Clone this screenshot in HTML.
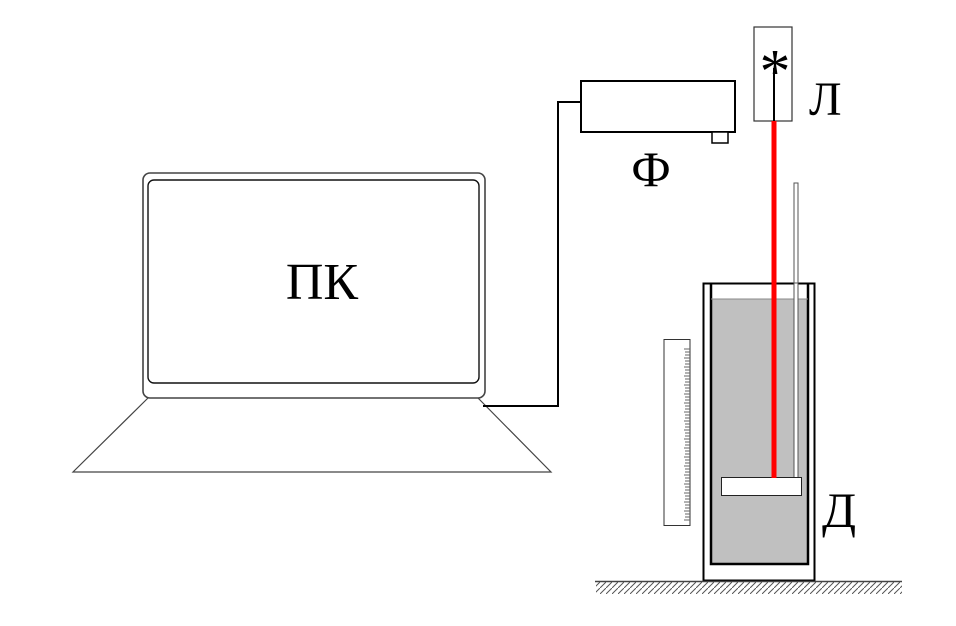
<!DOCTYPE html>
<html><head><meta charset="utf-8"><style>
html,body{margin:0;padding:0;background:#fff;}
svg{display:block;}
text{font-family:"Liberation Serif",serif;fill:#000;}
</style></head><body>
<svg width="956" height="626" viewBox="0 0 956 626" xmlns="http://www.w3.org/2000/svg">
<defs>
<pattern id="h" width="6" height="6" patternUnits="userSpaceOnUse">
<path d="M0 6 L6 0" stroke="#555" stroke-width="1"/>
</pattern>
</defs>
<!-- laptop -->
<rect x="143" y="173" width="342" height="225" rx="7" fill="none" stroke="#444" stroke-width="1.6"/>
<rect x="148" y="180" width="331" height="203" rx="6" fill="none" stroke="#111" stroke-width="1.4"/>
<path d="M148 398 L73 472 L551 472 L478 398" fill="none" stroke="#444" stroke-width="1.2"/>
<text x="322" y="299" font-size="52" text-anchor="middle">ПК</text>
<!-- cable -->
<path d="M483 406 L558 406 L558 102 L580 102" fill="none" stroke="#000" stroke-width="2"/>
<!-- projector -->
<rect x="581" y="81" width="154" height="51" fill="#fff" stroke="#000" stroke-width="2"/>
<rect x="712" y="132" width="16" height="11" fill="#fff" stroke="#000" stroke-width="1.5"/>
<text x="651" y="186" font-size="50" text-anchor="middle">Ф</text>
<!-- laser -->
<rect x="754" y="27" width="38" height="94" fill="#fff" stroke="#333" stroke-width="1.2"/>
<text x="775" y="92" font-size="62" text-anchor="middle">*</text>
<line x1="774" y1="68" x2="774" y2="121" stroke="#000" stroke-width="2"/>
<text x="809" y="115" font-size="48">Л</text>
<!-- rod -->
<rect x="794" y="183" width="4" height="295" fill="#fff" stroke="#555" stroke-width="1"/>
<!-- container -->
<rect x="703.5" y="283.5" width="111" height="297" fill="#fff" stroke="#000" stroke-width="2"/>
<rect x="711" y="299" width="97" height="265" fill="#c0c0c0"/>
<path d="M711 284 L711 564 L808 564 L808 284" fill="none" stroke="#000" stroke-width="2.5"/>
<line x1="711" y1="299" x2="808" y2="299" stroke="#888" stroke-width="1"/>
<rect x="794" y="283" width="4" height="195" fill="#fff" stroke="#555" stroke-width="1"/>
<rect x="721.5" y="477.5" width="80" height="18" fill="#fff" stroke="#222" stroke-width="1"/>
<line x1="774" y1="121" x2="774" y2="478" stroke="#f00" stroke-width="5"/>
<!-- ruler -->
<rect x="664" y="339.5" width="26" height="186" fill="#fff" stroke="#333" stroke-width="1"/>
<g stroke="#666" stroke-width="1">
<path d="M684 349h6M685 352h5M685 355h5M684 358h6M685 361h5M685 364h5M684 367h6M685 370h5M685 373h5M684 376h6M685 379h5M685 382h5M684 385h6M685 388h5M685 391h5M684 394h6M685 397h5M685 400h5M684 403h6M685 406h5M685 409h5M684 412h6M685 415h5M685 418h5M684 421h6M685 424h5M685 427h5M684 430h6M685 433h5M685 436h5M684 439h6M685 442h5M685 445h5M684 448h6M685 451h5M685 454h5M684 457h6M685 460h5M685 463h5M684 466h6M685 469h5M685 472h5M684 475h6M685 478h5M685 481h5M684 484h6M685 487h5M685 490h5M684 493h6M685 496h5M685 499h5M684 502h6M685 505h5M685 508h5M684 511h6M685 514h5M685 517h5M684 520h6"/>
</g>
<text x="822" y="527" font-size="50">Д</text>
<!-- ground -->
<rect x="596" y="582" width="306" height="12" fill="url(#h)"/>
<line x1="595" y1="581.5" x2="902" y2="581.5" stroke="#444" stroke-width="1.5"/>
</svg>
</body></html>
